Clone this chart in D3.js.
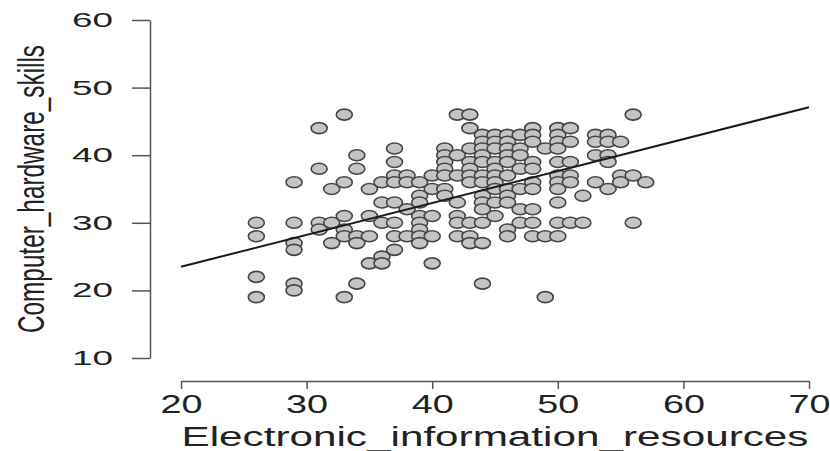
<!DOCTYPE html>
<html>
<head>
<meta charset="utf-8">
<script src="https://cdn.jsdelivr.net/npm/d3@7"></script>
<style>
  body { margin: 0; background: #fff; }
  text { font-family: "Liberation Sans", Arial, sans-serif; fill: #222; }
</style>
</head>
<body>
<div id="scatter"></div>
<script>
// x values (Electronic_information_resources) and the y values seen at each
var xValues = [26, 29, 31, 32, 33, 34, 35, 36, 37, 38, 39, 40, 41, 42, 43, 44, 45, 46, 47, 48, 49, 50, 51, 52, 53, 54, 55, 56, 57];
var yByX = [
  [30, 28, 22, 19],
  [36, 30, 27, 26, 21, 20],
  [44, 38, 30, 29],
  [35, 30, 27],
  [46, 36, 31, 29, 28, 19],
  [40, 38, 28, 27, 21],
  [35, 31, 28, 24],
  [36, 33, 30, 25, 24],
  [41, 39, 37, 36, 33, 30, 28, 26],
  [37, 36, 32, 28],
  [36, 34, 33, 31, 30, 29, 28, 27],
  [37, 35, 31, 28, 24],
  [41, 40, 39, 38, 37, 35, 34],
  [46, 40, 37, 33, 31, 30, 28],
  [46, 44, 41, 39, 38, 37, 36, 30, 28, 27],
  [43, 42, 41, 40, 39, 37, 36, 34, 33, 32, 30, 27, 21],
  [43, 42, 41, 39, 38, 37, 36, 35, 33, 31],
  [43, 42, 41, 40, 39, 37, 35, 34, 33, 29, 28],
  [43, 41, 40, 38, 35, 32, 30],
  [44, 43, 42, 39, 38, 36, 35, 32, 30, 28],
  [41, 28, 19],
  [44, 43, 42, 41, 39, 37, 36, 35, 33, 30, 28],
  [44, 42, 39, 37, 36, 30],
  [34, 30],
  [43, 42, 40, 36],
  [43, 42, 40, 39, 35],
  [42, 37, 36],
  [46, 37, 30],
  [36]
];

var xTicks = [20, 30, 40, 50, 60, 70];
var yTicks = [10, 20, 30, 40, 50, 60];

// fitted line
var fitIntercept = 14.06;
var fitSlope = 0.472;

var svgWidth = 830;
var svgHeight = 451;

var svg = d3.select("#scatter")
  .append("svg")
  .attr("width", svgWidth)
  .attr("height", svgHeight);

var points = [];
xValues.forEach(function (xv, i) {
  yByX[i].forEach(function (yv) {
    points.push({ x: xv, y: yv });
  });
});

var xLinearScale = d3.scaleLinear().domain([20, 70]).range([181, 809]);
var yLinearScale = d3.scaleLinear().domain([10, 60]).range([358, 20]);

// y axis
var yAxis = svg.append("g")
  .attr("transform", "translate(150, 0)")
  .call(d3.axisLeft(yLinearScale).tickValues(yTicks).tickSize(18).tickSizeOuter(0).tickPadding(19));

// x axis
var xAxis = svg.append("g")
  .attr("transform", "translate(0, 381)")
  .call(d3.axisBottom(xLinearScale).tickValues(xTicks).tickSize(8).tickSizeOuter(0).tickPadding(6));

[xAxis, yAxis].forEach(function (ax) {
  ax.select(".domain").attr("stroke", "#555").attr("stroke-width", 1.5);
  ax.selectAll(".tick line").attr("stroke", "#555").attr("stroke-width", 1.5);
});

yAxis.selectAll(".tick text")
  .attr("font-size", 20)
  .attr("fill", "#2a2a2a")
  .attr("textLength", 41)
  .attr("lengthAdjust", "spacingAndGlyphs");

xAxis.selectAll(".tick text")
  .attr("font-size", 26)
  .attr("fill", "#2a2a2a")
  .attr("textLength", 42)
  .attr("lengthAdjust", "spacingAndGlyphs");

// axis titles
svg.append("text")
  .attr("x", (181 + 809) / 2)
  .attr("y", 446)
  .attr("text-anchor", "middle")
  .attr("font-size", 27)
  .attr("textLength", 627)
  .attr("lengthAdjust", "spacingAndGlyphs")
  .text("Electronic_information_resources");

// the picture is stretched sideways, so the rotated title gets taller glyphs
svg.append("text")
  .attr("transform", "translate(44, 189) rotate(-90) scale(1, 1.6)")
  .attr("text-anchor", "middle")
  .attr("font-size", 23)
  .attr("textLength", 288)
  .attr("lengthAdjust", "spacingAndGlyphs")
  .text("Computer_hardware_skills");

// points
svg.append("g")
  .selectAll("ellipse")
  .data(points)
  .enter()
  .append("ellipse")
  .attr("cx", d => xLinearScale(d.x))
  .attr("cy", d => yLinearScale(d.y))
  .attr("rx", 8)
  .attr("ry", 5.5)
  .attr("fill", "#c4c4c4")
  .attr("stroke", "#444")
  .attr("stroke-width", 1.6);

// regression line
var lineEnds = [20, 70];
svg.append("path")
  .datum(lineEnds)
  .attr("fill", "none")
  .attr("stroke", "#1a1a1a")
  .attr("stroke-width", 2)
  .attr("d", d3.line()
    .x(d => xLinearScale(d))
    .y(d => yLinearScale(fitIntercept + fitSlope * d)));
</script>
</body>
</html>
